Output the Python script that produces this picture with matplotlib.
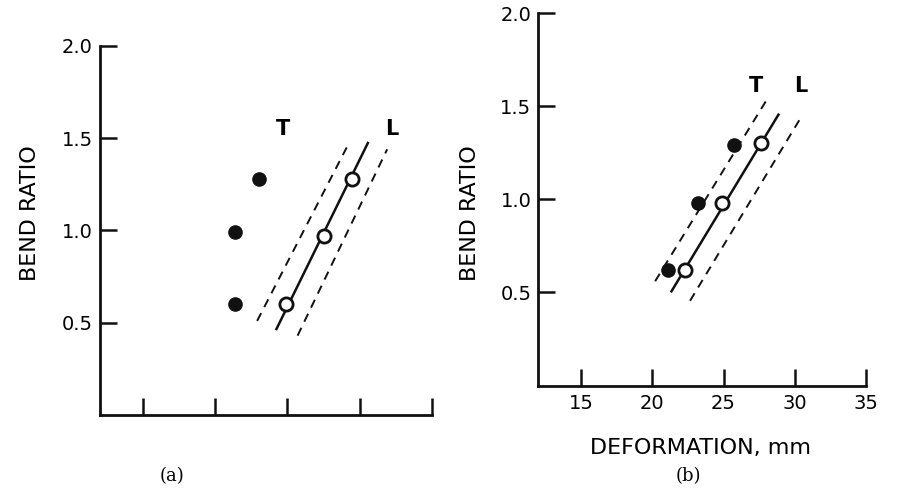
import matplotlib
matplotlib.use("Agg")
import matplotlib.pyplot as plt

# ---------- data ----------
# panel (a): transverse (T, filled) and longitudinal (L, open) points
a_T_x = [21.4, 21.4, 23.0]
a_T_y = [0.60, 0.99, 1.28]
a_L_x = [24.9, 27.5, 29.5]
a_L_y = [0.60, 0.97, 1.28]
# fitted line and scatter band (ends of each segment)
a_fit_x = [24.2, 30.6]
a_fit_y = [0.46, 1.48]
a_hi_x = [22.9, 29.1]
a_hi_y = [0.51, 1.45]
a_lo_x = [25.7, 31.9]
a_lo_y = [0.43, 1.44]

# panel (b)
b_T_x = [21.1, 23.2, 25.7]
b_T_y = [0.62, 0.98, 1.29]
b_L_x = [22.3, 24.9, 27.6]
b_L_y = [0.62, 0.98, 1.30]
b_fit_x = [21.3, 28.9]
b_fit_y = [0.50, 1.46]
b_hi_x = [20.2, 28.0]
b_hi_y = [0.56, 1.53]
b_lo_x = [22.65, 30.4]
b_lo_y = [0.455, 1.435]

x_ticks = [15, 20, 25, 30, 35]
x_ticklabels = ["15", "20", "25", "30", "35"]
y_ticks = [0.5, 1.0, 1.5, 2.0]
y_ticklabels = ["0.5", "1.0", "1.5", "2.0"]

fig = plt.figure(figsize=(8.99, 4.95), dpi=100)
ax_a = fig.add_axes([0.1108, 0.1616, 0.3697, 0.7455])
ax_b = fig.add_axes([0.5988, 0.2212, 0.3645, 0.7525])

dash = (0, (4.5, 3.5))


def style_axes(ax, show_xlabels):
    for s in ("top", "right"):
        ax.spines[s].set_visible(False)
    for s in ("left", "bottom"):
        ax.spines[s].set_linewidth(2.0)
        ax.spines[s].set_color("#111111")
    ax.set_xlim(12, 35)
    ax.set_ylim(0, 2.0)
    ax.set_xticks(x_ticks)
    ax.set_yticks(y_ticks)
    ax.set_yticklabels(y_ticklabels)
    if show_xlabels:
        ax.set_xticklabels(x_ticklabels)
    else:
        ax.set_xticklabels([])
    ax.tick_params(direction="in", length=12, width=1.8, color="#111111",
                   labelsize=14, pad=6)
    ax.tick_params(axis="y", pad=5)


def draw_panel(ax, tx, ty, lx, ly, fx, fy, hx, hy, lox, loy):
    ax.plot(fx, fy, color="#111111", lw=1.8, solid_capstyle="butt")
    ax.plot(hx, hy, color="#111111", lw=1.4, linestyle=dash)
    ax.plot(lox, loy, color="#111111", lw=1.4, linestyle=dash)
    ax.plot(tx, ty, "o", color="#111111", markersize=9.5, linestyle="none")
    ax.plot(lx, ly, "o", markerfacecolor="white", markeredgecolor="#111111",
            markeredgewidth=2.0, markersize=9.5, linestyle="none", zorder=5)


style_axes(ax_a, False)
draw_panel(ax_a, a_T_x, a_T_y, a_L_x, a_L_y, a_fit_x, a_fit_y,
           a_hi_x, a_hi_y, a_lo_x, a_lo_y)
ax_a.text(24.7, 1.55, "T", fontsize=15, fontweight="bold", ha="center", va="center")
ax_a.text(32.25, 1.55, "L", fontsize=15, fontweight="bold", ha="center", va="center")

style_axes(ax_b, True)
draw_panel(ax_b, b_T_x, b_T_y, b_L_x, b_L_y, b_fit_x, b_fit_y,
           b_hi_x, b_hi_y, b_lo_x, b_lo_y)
ax_b.text(27.3, 1.61, "T", fontsize=15, fontweight="bold", ha="center", va="center")
ax_b.text(30.4, 1.61, "L", fontsize=15, fontweight="bold", ha="center", va="center")

# axis titles and panel captions
fig.text(30 / 899, 1 - 213 / 495, "BEND RATIO", rotation=90, fontsize=16,
         ha="center", va="center")
fig.text(470 / 899, 1 - 213 / 495, "BEND RATIO", rotation=90, fontsize=16,
         ha="center", va="center")
fig.text(700 / 899, 1 - 448 / 495, "DEFORMATION, mm", fontsize=16,
         ha="center", va="center")
fig.text(172 / 899, 1 - 476 / 495, "(a)", fontsize=13, family="DejaVu Serif",
         ha="center", va="center")
fig.text(688 / 899, 1 - 476 / 495, "(b)", fontsize=13, family="DejaVu Serif",
         ha="center", va="center")

fig.savefig("out.png", dpi=100)
